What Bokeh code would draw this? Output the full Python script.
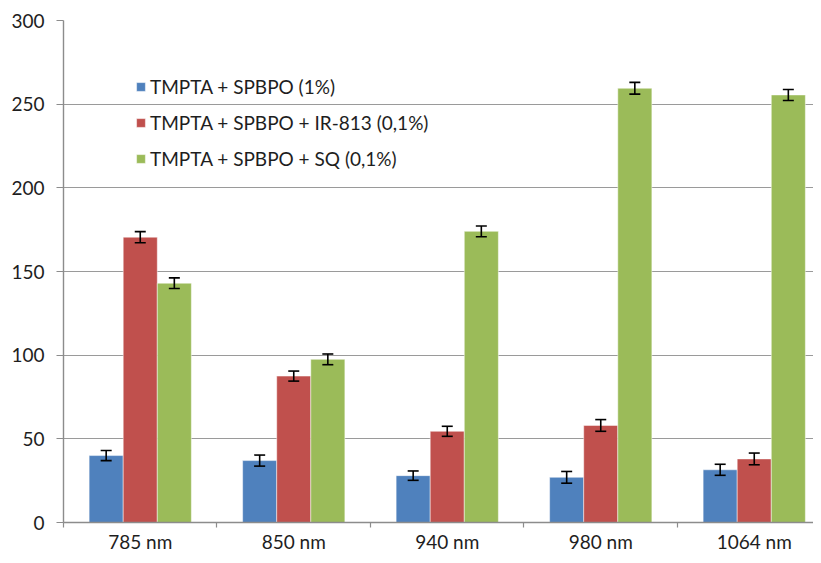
from bokeh.plotting import figure
from bokeh.models import ColumnDataSource, Whisker, FixedTicker, Legend, LegendItem, Range1d
from bokeh.embed import file_html
from bokeh.resources import INLINE

categories = ["785 nm", "850 nm", "940 nm", "980 nm", "1064 nm"]
series_names = ["TMPTA + SPBPO (1%)", "TMPTA + SPBPO + IR-813 (0,1%)", "TMPTA + SPBPO + SQ (0,1%)"]
blue_vals = [40, 37, 28, 27, 31.5]
red_vals = [170.5, 87.5, 54.5, 58, 38]
green_vals = [143, 97.5, 174, 259.5, 255.5]
blue_err = [3, 3.3, 2.8, 3.5, 3.3]
red_err = [3.3, 3, 3, 3.5, 3.5]
green_err = [3.2, 3.2, 3.2, 3.5, 3.3]
colors = ["#4F81BD", "#C0504D", "#9BBB59"]
y_ticks = [0, 50, 100, 150, 200, 250, 300]

FONT = "Lato"
TXT = "#1e1e1e"
AXC = "#8c8c8c"

p = figure(width=813, height=555, output_backend="svg", toolbar_location=None,
           x_range=Range1d(0, 4.886), y_range=Range1d(0, 300),
           min_border_left=63, min_border_top=20, min_border_right=0, min_border_bottom=31)
p.outline_line_color = None
p.background_fill_color = "white"

bw = 0.222
offsets = [-bw, 0, bw]
renderers = []
for vals, errs, off, col in zip([blue_vals, red_vals, green_vals], [blue_err, red_err, green_err], offsets, colors):
    xs = [i + 0.5 + off for i in range(len(categories))]
    src = ColumnDataSource(dict(x=xs, top=vals, lo=[v - e for v, e in zip(vals, errs)],
                                hi=[v + e for v, e in zip(vals, errs)]))
    r = p.vbar(x="x", top="top", width=bw, source=src, fill_color=col,
               line_color="white", line_width=0.8, line_alpha=0.6)
    renderers.append(r)
    w = Whisker(source=src, base="x", lower="lo", upper="hi", line_color="black",
                line_width=1.6, level="overlay")
    for h in (w.upper_head, w.lower_head):
        h.size = 11
        h.line_width = 1.6
        h.line_color = "black"
    p.add_layout(w)

# axes
centers = [i + 0.5 for i in range(len(categories))]
bounds = list(range(len(categories) + 1))
p.xaxis.ticker = FixedTicker(ticks=centers, minor_ticks=bounds)
p.xaxis.major_label_overrides = {c: lab for c, lab in zip(centers, categories)}
p.xaxis.major_tick_out = 0
p.xaxis.major_tick_in = 0
p.xaxis.minor_tick_out = 5
p.xaxis.minor_tick_in = 0
p.xaxis.minor_tick_line_color = AXC
p.xaxis.minor_tick_line_width = 1.2
p.xaxis.axis_line_color = AXC
p.xaxis.major_label_standoff = 2

p.yaxis.ticker = FixedTicker(ticks=y_ticks)
p.yaxis.major_tick_out = 7
p.yaxis.major_tick_in = 0
p.yaxis.minor_tick_out = 0
p.yaxis.minor_tick_in = 0
p.yaxis.major_tick_line_color = AXC
p.yaxis.major_tick_line_width = 1.2
p.yaxis.axis_line_color = AXC
p.yaxis.major_label_standoff = 12

for ax in [p.xaxis[0], p.yaxis[0]]:
    ax.major_label_text_font = FONT
    ax.major_label_text_font_size = "19px"
    ax.major_label_text_color = TXT
    ax.axis_line_width = 1.4

p.xgrid.grid_line_color = None
p.ygrid.ticker = FixedTicker(ticks=y_ticks)
p.ygrid.grid_line_color = "#9a9a9a"
p.ygrid.grid_line_width = 1.2

legend = Legend(items=[LegendItem(label=n, renderers=[r]) for n, r in zip(series_names, renderers)],
                location=(72, 352), orientation="vertical",
                glyph_width=11, glyph_height=11, label_standoff=4, label_height=15, spacing=13,
                padding=0, margin=0, border_line_color=None, background_fill_alpha=0,
                label_text_font=FONT, label_text_font_size="19px", label_text_color=TXT)
p.add_layout(legend)

open("out.html", "w").write(file_html(p, INLINE))
